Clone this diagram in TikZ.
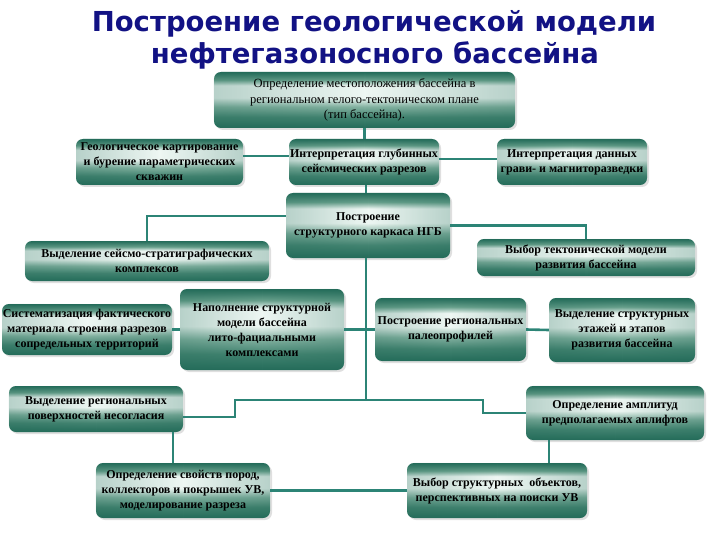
\documentclass[tikz,border=0pt]{standalone}
\usepackage{fontspec}
\setmainfont{Liberation Serif}
\newfontfamily\titlefont{DejaVu Sans}
\usetikzlibrary{shadows,fadings}
\definecolor{bdark}{RGB}{36,108,90}
\definecolor{bmid}{RGB}{104,160,140}
\definecolor{blight}{RGB}{238,247,243}
\definecolor{linec}{RGB}{44,132,118}
\definecolor{titlec}{RGB}{18,18,132}
\pgfdeclareverticalshading{boxshade}{100bp}{color(0bp)=(bdark); color(25bp)=(bdark); color(35bp)=(bdark!55!bmid); color(44bp)=(bmid!80!blight); color(52bp)=(blight); color(63bp)=(blight); color(68bp)=(bmid); color(72bp)=(bdark!60!bmid); color(75bp)=(bdark); color(100bp)=(bdark)}
\tikzfading[name=sidefade, left color=transparent!40, right color=transparent!40, middle color=transparent!100]
\tikzset{
  gbox/.style={rectangle, rounded corners=7pt, shading=boxshade, inner sep=0pt, align=center,
    font=\fontsize{12}{15}\selectfont\bfseries,
    drop shadow={shadow xshift=2pt, shadow yshift=-2pt, opacity=0.25},
    postaction={fill=bdark, path fading=sidefade, fill opacity=0.45}},
  conn/.style={draw=linec, line width=2.6pt},
  thin conn/.style={draw=linec, line width=2pt},
  titletext/.style={font=\titlefont\bfseries\fontsize{27.5}{32}\selectfont, text=titlec, anchor=base}
}
\begin{document}
\begin{tikzpicture}[x=1pt,y=-1pt]
\useasboundingbox (0,0) rectangle (720,540);
% title
\node[titletext] (title1) at (374,32) {Построение геологической модели};
\node[titletext] (title2) at (375,64) {нефтегазоносного бассейна};
% boxes
\node[gbox, minimum width=301, minimum height=56, font=\fontsize{12.5}{15.5}\selectfont] (n1) at (364.5,100) {Определение местоположения бассейна в\\региональном гелого-тектоническом плане\\(тип бассейна).};
\node[gbox, minimum width=167, minimum height=46] (n2) at (159.5,162) {Геологическое картирование\\и бурение параметрических\\скважин};
\node[gbox, minimum width=150, minimum height=46] (n3) at (364,162) {Интерпретация глубинных\\сейсмических разрезов};
\node[gbox, minimum width=150, minimum height=46] (n4) at (572,162) {Интерпретация данных\\грави- и магниторазведки};
\node[gbox, minimum width=164, minimum height=65] (n5) at (368,225.5) {Построение\\структурного каркаса НГБ};
\node[gbox, minimum width=244, minimum height=40] (n6) at (147,261) {Выделение сейсмо-стратиграфических\\комплексов};
\node[gbox, minimum width=218, minimum height=37] (n7) at (586,257.5) {Выбор тектонической модели\\развития бассейна};
\node[gbox, minimum width=170, minimum height=51] (n8) at (87,329.5) {Систематизация фактического\\материала строения разрезов\\сопредельных территорий};
\node[gbox, minimum width=164, minimum height=81] (n9) at (262,329.5) {Наполнение структурной\\модели бассейна\\лито-фациальными\\комплексами};
\node[gbox, minimum width=151, minimum height=63] (n10) at (450.5,329.5) {Построение региональных\\палеопрофилей};
\node[gbox, minimum width=146, minimum height=64] (n11) at (622,330) {Выделение структурных\\этажей и этапов\\развития бассейна};
\node[gbox, minimum width=174, minimum height=46] (n12) at (96,409) {Выделение региональных\\поверхностей несогласия};
\node[gbox, minimum width=178, minimum height=54] (n13) at (615,413) {Определение амплитуд\\предполагаемых аплифтов};
\node[gbox, minimum width=174, minimum height=55] (n14) at (183,490.5) {Определение свойств пород,\\коллекторов и покрышек УВ,\\моделирование разреза};
\node[gbox, minimum width=180, minimum height=55] (n15) at (497,490.5) {Выбор структурных\ \ объектов,\\перспективных на поиски УВ};
% junctions
\coordinate (j) at (366,400);
\coordinate (ja) at (235,400);
\coordinate (jb) at (483,400);
% connectors
\draw[conn] (n1.south) -- (n1.south |- n3.north);
\draw[conn] ([yshift=6pt]n2.east) -- ([yshift=6pt]n3.west);
\draw[conn] ([yshift=3pt]n3.east) -- ([yshift=3pt]n4.west);
\draw[conn] ([xshift=2pt]n3.south) -- ([xshift=2pt]n3.south |- n5.north);
\draw[conn] ([yshift=9.5pt]n5.west) -| (n6.north);
\draw[conn] (n5.east) -| (n7.north);
\draw[conn] ([xshift=-2pt]n5.south) -- (j);
\draw[conn] (n8.east) -- (n9.west);
\draw[conn] (n9.east) -- (n10.west);
\draw[conn] (n10.east) -- (n11.west);
\draw[thin conn] ([yshift=-8pt]n12.east) -| (ja) -- (jb) |- (n13.west);
\draw[conn] ([xshift=-10pt]n14.north) -- ([xshift=-10pt]n14.north |- n12.south);
\draw[conn] ([xshift=52pt]n15.north) -- ([xshift=52pt]n15.north |- n13.south);
\draw[conn] (n14.east) -- (n15.west);
\end{tikzpicture}
\end{document}
